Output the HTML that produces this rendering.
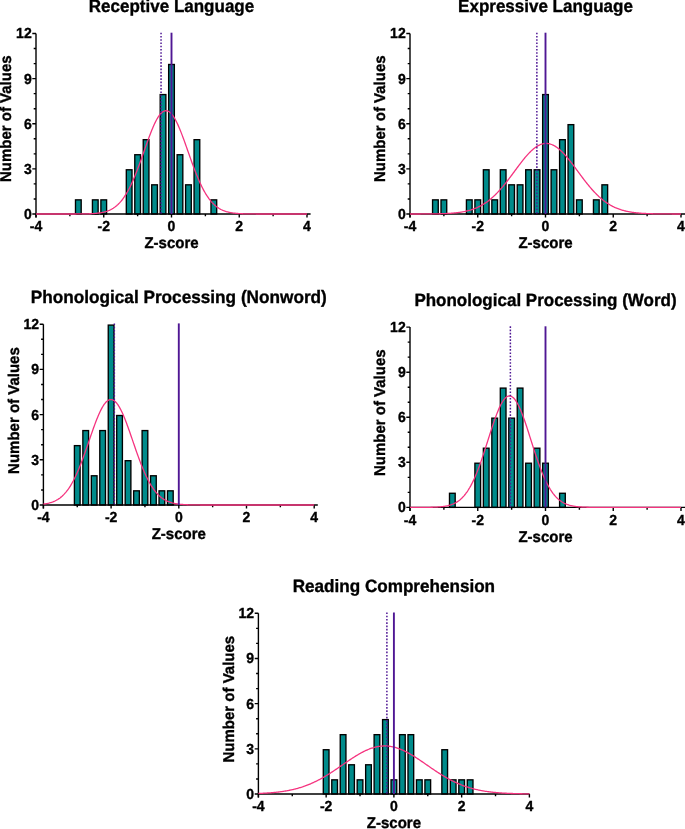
<!DOCTYPE html>
<html><head><meta charset="utf-8"><style>
html,body{margin:0;padding:0;background:#fff;}
svg{display:block;will-change:transform;}
text{text-rendering:geometricPrecision;font-family:"Liberation Sans",sans-serif;font-weight:bold;fill:#000;stroke:#000;stroke-width:0.35px;}
.t{font-size:14px;}
.a{font-size:15px;}
.h{font-size:17px;}
</style></head><body>
<svg width="685" height="829" viewBox="0 0 685 829">
<rect width="685" height="829" fill="#fff"/>
<rect x="75.49" y="199.86" width="5.7" height="14.14" fill="#008b8b" stroke="#000" stroke-width="1.35"/>
<rect x="92.43" y="199.86" width="5.7" height="14.14" fill="#008b8b" stroke="#000" stroke-width="1.35"/>
<rect x="100.9" y="199.86" width="5.7" height="14.14" fill="#008b8b" stroke="#000" stroke-width="1.35"/>
<rect x="126.31" y="169.78" width="5.7" height="44.23" fill="#008b8b" stroke="#000" stroke-width="1.35"/>
<rect x="134.78" y="154.73" width="5.7" height="59.27" fill="#008b8b" stroke="#000" stroke-width="1.35"/>
<rect x="143.24" y="139.69" width="5.7" height="74.31" fill="#008b8b" stroke="#000" stroke-width="1.35"/>
<rect x="151.71" y="184.82" width="5.7" height="29.18" fill="#008b8b" stroke="#000" stroke-width="1.35"/>
<rect x="160.18" y="94.57" width="5.7" height="119.43" fill="#008b8b" stroke="#000" stroke-width="1.35"/>
<rect x="168.65" y="64.48" width="5.7" height="149.52" fill="#008b8b" stroke="#000" stroke-width="1.35"/>
<rect x="177.12" y="154.73" width="5.7" height="59.27" fill="#008b8b" stroke="#000" stroke-width="1.35"/>
<rect x="185.59" y="184.82" width="5.7" height="29.18" fill="#008b8b" stroke="#000" stroke-width="1.35"/>
<rect x="194.06" y="139.69" width="5.7" height="74.31" fill="#008b8b" stroke="#000" stroke-width="1.35"/>
<rect x="210.99" y="199.86" width="5.7" height="14.14" fill="#008b8b" stroke="#000" stroke-width="1.35"/>
<path d="M36 33.5V217.5M36 214H310.6" fill="none" stroke="#000" stroke-width="1.4"/>
<path d="M32.3 214H36M33.7 198.96H36M33.7 183.92H36M32.3 168.88H36M33.7 153.83H36M33.7 138.79H36M32.3 123.75H36M33.7 108.71H36M33.7 93.67H36M32.3 78.62H36M33.7 63.58H36M33.7 48.54H36M32.3 33.5H36M36 214V217.5M69.88 214V216.3M103.75 214V217.5M137.62 214V216.3M171.5 214V217.5M205.38 214V216.3M239.25 214V217.5M273.12 214V216.3M307 214V217.5" fill="none" stroke="#000" stroke-width="1.4"/>
<polyline points="36,214 36.68,214 37.36,214 38.03,214 38.71,214 39.39,214 40.07,214 40.74,214 41.42,214 42.1,214 42.78,214 43.45,214 44.13,214 44.81,214 45.49,214 46.16,214 46.84,214 47.52,214 48.19,214 48.87,214 49.55,214 50.23,214 50.91,214 51.58,214 52.26,214 52.94,214 53.62,214 54.29,214 54.97,214 55.65,214 56.33,214 57,214 57.68,214 58.36,214 59.04,214 59.71,214 60.39,214 61.07,214 61.74,214 62.42,214 63.1,214 63.78,214 64.45,214 65.13,214 65.81,214 66.49,214 67.16,214 67.84,214 68.52,213.99 69.2,213.99 69.88,213.99 70.55,213.99 71.23,213.99 71.91,213.99 72.59,213.99 73.26,213.99 73.94,213.98 74.62,213.98 75.3,213.98 75.97,213.98 76.65,213.97 77.33,213.97 78.01,213.97 78.68,213.96 79.36,213.96 80.04,213.95 80.72,213.94 81.39,213.94 82.07,213.93 82.75,213.92 83.43,213.91 84.1,213.9 84.78,213.89 85.46,213.87 86.13,213.86 86.81,213.84 87.49,213.82 88.17,213.8 88.84,213.78 89.52,213.76 90.2,213.73 90.88,213.7 91.56,213.67 92.23,213.63 92.91,213.59 93.59,213.54 94.26,213.5 94.94,213.44 95.62,213.38 96.3,213.32 96.97,213.25 97.65,213.18 98.33,213.09 99.01,213 99.69,212.91 100.36,212.8 101.04,212.69 101.72,212.56 102.39,212.43 103.07,212.28 103.75,212.12 104.43,211.95 105.11,211.77 105.78,211.57 106.46,211.36 107.14,211.13 107.81,210.88 108.49,210.62 109.17,210.34 109.85,210.04 110.53,209.72 111.2,209.37 111.88,209 112.56,208.61 113.24,208.2 113.91,207.75 114.59,207.29 115.27,206.79 115.94,206.26 116.62,205.7 117.3,205.11 117.98,204.49 118.66,203.83 119.33,203.14 120.01,202.41 120.69,201.64 121.36,200.84 122.04,200 122.72,199.11 123.4,198.19 124.08,197.23 124.75,196.22 125.43,195.17 126.11,194.08 126.79,192.94 127.46,191.76 128.14,190.54 128.82,189.28 129.5,187.97 130.17,186.61 130.85,185.22 131.53,183.78 132.2,182.3 132.88,180.77 133.56,179.21 134.24,177.61 134.91,175.97 135.59,174.3 136.27,172.59 136.95,170.85 137.62,169.08 138.3,167.28 138.98,165.45 139.66,163.6 140.34,161.73 141.01,159.85 141.69,157.94 142.37,156.03 143.05,154.1 143.72,152.18 144.4,150.25 145.08,148.32 145.75,146.4 146.43,144.48 147.11,142.59 147.79,140.7 148.47,138.85 149.14,137.01 149.82,135.21 150.5,133.44 151.18,131.71 151.85,130.02 152.53,128.38 153.21,126.79 153.88,125.26 154.56,123.78 155.24,122.37 155.92,121.02 156.59,119.74 157.27,118.54 157.95,117.41 158.63,116.36 159.31,115.39 159.98,114.51 160.66,113.72 161.34,113.01 162.01,112.4 162.69,111.88 163.37,111.45 164.05,111.12 164.73,110.89 165.4,110.75 166.08,110.72 166.76,110.78 167.44,110.94 168.11,111.19 168.79,111.55 169.47,111.99 170.15,112.54 170.82,113.17 171.5,113.9 172.18,114.71 172.85,115.62 173.53,116.6 174.21,117.67 174.89,118.82 175.56,120.04 176.24,121.34 176.92,122.7 177.6,124.13 178.28,125.62 178.95,127.17 179.63,128.77 180.31,130.43 180.99,132.12 181.66,133.86 182.34,135.64 183.02,137.45 183.7,139.29 184.37,141.15 185.05,143.04 185.73,144.94 186.41,146.86 187.08,148.78 187.76,150.71 188.44,152.64 189.12,154.57 189.79,156.49 190.47,158.4 191.15,160.3 191.83,162.18 192.5,164.05 193.18,165.89 193.86,167.71 194.53,169.51 195.21,171.27 195.89,173 196.57,174.7 197.25,176.37 197.92,178 198.6,179.59 199.28,181.14 199.95,182.65 200.63,184.13 201.31,185.55 201.99,186.94 202.66,188.28 203.34,189.58 204.02,190.84 204.7,192.05 205.38,193.22 206.05,194.34 206.73,195.43 207.41,196.46 208.09,197.46 208.76,198.42 209.44,199.33 210.12,200.2 210.8,201.04 211.47,201.83 212.15,202.59 212.83,203.31 213.5,203.99 214.18,204.64 214.86,205.25 215.54,205.84 216.22,206.39 216.89,206.91 217.57,207.4 218.25,207.86 218.93,208.3 219.6,208.71 220.28,209.09 220.96,209.46 221.64,209.79 222.31,210.11 222.99,210.41 223.67,210.69 224.35,210.94 225.02,211.19 225.7,211.41 226.38,211.62 227.05,211.81 227.73,211.99 228.41,212.16 229.09,212.32 229.76,212.46 230.44,212.59 231.12,212.71 231.8,212.83 232.47,212.93 233.15,213.03 233.83,213.11 234.51,213.19 235.19,213.27 235.86,213.34 236.54,213.4 237.22,213.46 237.9,213.51 238.57,213.55 239.25,213.6 239.93,213.64 240.6,213.67 241.28,213.71 241.96,213.74 242.64,213.76 243.31,213.79 243.99,213.81 244.67,213.83 245.35,213.85 246.03,213.86 246.7,213.88 247.38,213.89 248.06,213.9 248.74,213.91 249.41,213.92 250.09,213.93 250.77,213.94 251.45,213.95 252.12,213.95 252.8,213.96 253.48,213.96 254.16,213.97 254.83,213.97 255.51,213.97 256.19,213.98 256.87,213.98 257.54,213.98 258.22,213.98 258.9,213.99 259.58,213.99 260.25,213.99 260.93,213.99 261.61,213.99 262.28,213.99 262.96,213.99 263.64,213.99 264.32,214 265,214 265.67,214 266.35,214 267.03,214 267.7,214 268.38,214 269.06,214 269.74,214 270.41,214 271.09,214 271.77,214 272.45,214 273.12,214 273.8,214 274.48,214 275.16,214 275.84,214 276.51,214 277.19,214 277.87,214 278.55,214 279.22,214 279.9,214 280.58,214 281.25,214 281.93,214 282.61,214 283.29,214 283.97,214 284.64,214 285.32,214 286,214 286.68,214 287.35,214 288.03,214 288.71,214 289.38,214 290.06,214 290.74,214 291.42,214 292.1,214 292.77,214 293.45,214 294.13,214 294.81,214 295.48,214 296.16,214 296.84,214 297.51,214 298.19,214 298.87,214 299.55,214 300.22,214 300.9,214 301.58,214 302.26,214 302.94,214 303.61,214 304.29,214 304.97,214 305.64,214 306.32,214 307,214" fill="none" stroke="#f5337f" stroke-width="1.3"/>
<line x1="171.5" y1="32.7" x2="171.5" y2="214" stroke="#4f1794" stroke-width="1.9"/>
<line x1="161.05" y1="32.7" x2="161.05" y2="214" stroke="#4f1794" stroke-width="1.5" stroke-dasharray="1.6 1.66"/>
<text transform="translate(31.7 218.9) scale(1 1.04)" text-anchor="end" class="t">0</text>
<text transform="translate(31.7 173.78) scale(1 1.04)" text-anchor="end" class="t">3</text>
<text transform="translate(31.7 128.65) scale(1 1.04)" text-anchor="end" class="t">6</text>
<text transform="translate(31.7 83.53) scale(1 1.04)" text-anchor="end" class="t">9</text>
<text transform="translate(31.7 38.4) scale(1 1.04)" text-anchor="end" class="t">12</text>
<text transform="translate(36 230.8) scale(1 1.04)" text-anchor="middle" class="t">-4</text>
<text transform="translate(103.75 230.8) scale(1 1.04)" text-anchor="middle" class="t">-2</text>
<text transform="translate(171.5 230.8) scale(1 1.04)" text-anchor="middle" class="t">0</text>
<text transform="translate(239.25 230.8) scale(1 1.04)" text-anchor="middle" class="t">2</text>
<text transform="translate(307 230.8) scale(1 1.04)" text-anchor="middle" class="t">4</text>
<text transform="translate(171.5 247.9) scale(1 1.04)" text-anchor="middle" class="a">Z-score</text>
<text transform="translate(11.2 118.75) rotate(-90) scale(1 1.04)" text-anchor="middle" class="a">Number of Values</text>
<text transform="translate(171.5 12) scale(1 1.04)" text-anchor="middle" class="h" style="font-size:17px">Receptive Language</text>
<rect x="432.56" y="199.86" width="5.7" height="14.14" fill="#008b8b" stroke="#000" stroke-width="1.35"/>
<rect x="441.02" y="199.86" width="5.7" height="14.14" fill="#008b8b" stroke="#000" stroke-width="1.35"/>
<rect x="466.43" y="199.86" width="5.7" height="14.14" fill="#008b8b" stroke="#000" stroke-width="1.35"/>
<rect x="474.9" y="199.86" width="5.7" height="14.14" fill="#008b8b" stroke="#000" stroke-width="1.35"/>
<rect x="483.37" y="169.78" width="5.7" height="44.23" fill="#008b8b" stroke="#000" stroke-width="1.35"/>
<rect x="491.84" y="199.86" width="5.7" height="14.14" fill="#008b8b" stroke="#000" stroke-width="1.35"/>
<rect x="500.31" y="169.78" width="5.7" height="44.23" fill="#008b8b" stroke="#000" stroke-width="1.35"/>
<rect x="508.77" y="184.82" width="5.7" height="29.18" fill="#008b8b" stroke="#000" stroke-width="1.35"/>
<rect x="517.24" y="184.82" width="5.7" height="29.18" fill="#008b8b" stroke="#000" stroke-width="1.35"/>
<rect x="525.71" y="169.78" width="5.7" height="44.23" fill="#008b8b" stroke="#000" stroke-width="1.35"/>
<rect x="534.18" y="169.78" width="5.7" height="44.23" fill="#008b8b" stroke="#000" stroke-width="1.35"/>
<rect x="542.65" y="94.57" width="5.7" height="119.43" fill="#008b8b" stroke="#000" stroke-width="1.35"/>
<rect x="551.12" y="169.78" width="5.7" height="44.23" fill="#008b8b" stroke="#000" stroke-width="1.35"/>
<rect x="559.59" y="139.69" width="5.7" height="74.31" fill="#008b8b" stroke="#000" stroke-width="1.35"/>
<rect x="568.06" y="124.65" width="5.7" height="89.35" fill="#008b8b" stroke="#000" stroke-width="1.35"/>
<rect x="576.52" y="199.86" width="5.7" height="14.14" fill="#008b8b" stroke="#000" stroke-width="1.35"/>
<rect x="593.46" y="199.86" width="5.7" height="14.14" fill="#008b8b" stroke="#000" stroke-width="1.35"/>
<rect x="601.93" y="184.82" width="5.7" height="29.18" fill="#008b8b" stroke="#000" stroke-width="1.35"/>
<path d="M410 33.5V217.5M410 214H686" fill="none" stroke="#000" stroke-width="1.4"/>
<path d="M406.3 214H410M407.7 198.96H410M407.7 183.92H410M406.3 168.88H410M407.7 153.83H410M407.7 138.79H410M406.3 123.75H410M407.7 108.71H410M407.7 93.67H410M406.3 78.62H410M407.7 63.58H410M407.7 48.54H410M406.3 33.5H410M410 214V217.5M443.88 214V216.3M477.75 214V217.5M511.62 214V216.3M545.5 214V217.5M579.38 214V216.3M613.25 214V217.5M647.12 214V216.3M681 214V217.5" fill="none" stroke="#000" stroke-width="1.4"/>
<polyline points="410,213.99 410.68,213.99 411.36,213.99 412.03,213.99 412.71,213.99 413.39,213.99 414.06,213.99 414.74,213.99 415.42,213.99 416.1,213.99 416.77,213.98 417.45,213.98 418.13,213.98 418.81,213.98 419.49,213.98 420.16,213.98 420.84,213.97 421.52,213.97 422.19,213.97 422.87,213.97 423.55,213.96 424.23,213.96 424.9,213.96 425.58,213.95 426.26,213.95 426.94,213.94 427.62,213.94 428.29,213.93 428.97,213.93 429.65,213.92 430.32,213.92 431,213.91 431.68,213.9 432.36,213.89 433.04,213.89 433.71,213.88 434.39,213.87 435.07,213.86 435.75,213.85 436.42,213.83 437.1,213.82 437.78,213.81 438.45,213.79 439.13,213.78 439.81,213.76 440.49,213.74 441.17,213.72 441.84,213.7 442.52,213.68 443.2,213.66 443.88,213.63 444.55,213.61 445.23,213.58 445.91,213.55 446.58,213.52 447.26,213.48 447.94,213.45 448.62,213.41 449.3,213.37 449.97,213.32 450.65,213.28 451.33,213.23 452,213.18 452.68,213.12 453.36,213.07 454.04,213.01 454.72,212.94 455.39,212.88 456.07,212.8 456.75,212.73 457.43,212.65 458.1,212.57 458.78,212.48 459.46,212.38 460.13,212.29 460.81,212.18 461.49,212.08 462.17,211.96 462.85,211.84 463.52,211.72 464.2,211.58 464.88,211.45 465.56,211.3 466.23,211.15 466.91,210.99 467.59,210.83 468.26,210.65 468.94,210.47 469.62,210.28 470.3,210.08 470.98,209.88 471.65,209.66 472.33,209.44 473.01,209.2 473.69,208.96 474.36,208.71 475.04,208.44 475.72,208.17 476.39,207.88 477.07,207.59 477.75,207.28 478.43,206.96 479.11,206.63 479.78,206.29 480.46,205.93 481.14,205.57 481.81,205.19 482.49,204.79 483.17,204.39 483.85,203.97 484.52,203.54 485.2,203.09 485.88,202.63 486.56,202.16 487.24,201.67 487.91,201.17 488.59,200.65 489.27,200.12 489.94,199.58 490.62,199.02 491.3,198.45 491.98,197.86 492.65,197.26 493.33,196.64 494.01,196.01 494.69,195.36 495.37,194.7 496.04,194.03 496.72,193.34 497.4,192.64 498.07,191.92 498.75,191.19 499.43,190.45 500.11,189.69 500.79,188.93 501.46,188.15 502.14,187.35 502.82,186.55 503.5,185.73 504.17,184.91 504.85,184.07 505.53,183.22 506.2,182.37 506.88,181.5 507.56,180.63 508.24,179.75 508.91,178.86 509.59,177.97 510.27,177.07 510.95,176.16 511.62,175.25 512.3,174.34 512.98,173.43 513.66,172.51 514.34,171.59 515.01,170.67 515.69,169.75 516.37,168.84 517.04,167.92 517.72,167.01 518.4,166.1 519.08,165.2 519.75,164.3 520.43,163.42 521.11,162.53 521.79,161.66 522.47,160.8 523.14,159.94 523.82,159.1 524.5,158.27 525.17,157.46 525.85,156.66 526.53,155.87 527.21,155.11 527.88,154.35 528.56,153.62 529.24,152.91 529.92,152.21 530.6,151.54 531.27,150.89 531.95,150.26 532.63,149.66 533.31,149.08 533.98,148.52 534.66,147.99 535.34,147.49 536.01,147.01 536.69,146.56 537.37,146.14 538.05,145.75 538.73,145.39 539.4,145.05 540.08,144.75 540.76,144.48 541.43,144.24 542.11,144.03 542.79,143.85 543.47,143.71 544.14,143.6 544.82,143.52 545.5,143.47 546.18,143.45 546.86,143.47 547.53,143.52 548.21,143.6 548.89,143.71 549.57,143.86 550.24,144.04 550.92,144.25 551.6,144.49 552.27,144.76 552.95,145.06 553.63,145.4 554.31,145.76 554.99,146.15 555.66,146.58 556.34,147.02 557.02,147.5 557.7,148.01 558.37,148.54 559.05,149.09 559.73,149.68 560.4,150.28 561.08,150.91 561.76,151.56 562.44,152.23 563.12,152.93 563.79,153.64 564.47,154.38 565.15,155.13 565.83,155.9 566.5,156.68 567.18,157.48 567.86,158.3 568.53,159.13 569.21,159.97 569.89,160.82 570.57,161.69 571.25,162.56 571.92,163.44 572.6,164.33 573.28,165.23 573.95,166.13 574.63,167.04 575.31,167.95 575.99,168.87 576.66,169.78 577.34,170.7 578.02,171.62 578.7,172.54 579.38,173.45 580.05,174.37 580.73,175.28 581.41,176.19 582.09,177.1 582.76,178 583.44,178.89 584.12,179.78 584.8,180.66 585.47,181.53 586.15,182.39 586.83,183.25 587.5,184.1 588.18,184.93 588.86,185.76 589.54,186.57 590.22,187.38 590.89,188.17 591.57,188.95 592.25,189.72 592.92,190.47 593.6,191.21 594.28,191.94 594.96,192.66 595.63,193.36 596.31,194.05 596.99,194.72 597.67,195.38 598.35,196.03 599.02,196.66 599.7,197.27 600.38,197.88 601.05,198.46 601.73,199.04 602.41,199.6 603.09,200.14 603.76,200.67 604.44,201.19 605.12,201.69 605.8,202.17 606.48,202.65 607.15,203.11 607.83,203.55 608.51,203.98 609.18,204.4 609.86,204.81 610.54,205.2 611.22,205.58 611.89,205.94 612.57,206.3 613.25,206.64 613.93,206.97 614.61,207.29 615.28,207.6 615.96,207.89 616.64,208.18 617.32,208.45 617.99,208.71 618.67,208.97 619.35,209.21 620.02,209.44 620.7,209.67 621.38,209.88 622.06,210.09 622.74,210.29 623.41,210.48 624.09,210.66 624.77,210.83 625.45,211 626.12,211.16 626.8,211.31 627.48,211.45 628.15,211.59 628.83,211.72 629.51,211.85 630.19,211.96 630.87,212.08 631.54,212.19 632.22,212.29 632.9,212.39 633.58,212.48 634.25,212.57 634.93,212.65 635.61,212.73 636.28,212.81 636.96,212.88 637.64,212.94 638.32,213.01 639,213.07 639.67,213.13 640.35,213.18 641.03,213.23 641.7,213.28 642.38,213.33 643.06,213.37 643.74,213.41 644.41,213.45 645.09,213.48 645.77,213.52 646.45,213.55 647.12,213.58 647.8,213.61 648.48,213.63 649.16,213.66 649.84,213.68 650.51,213.7 651.19,213.72 651.87,213.74 652.55,213.76 653.22,213.78 653.9,213.79 654.58,213.81 655.25,213.82 655.93,213.83 656.61,213.85 657.29,213.86 657.97,213.87 658.64,213.88 659.32,213.89 660,213.89 660.67,213.9 661.35,213.91 662.03,213.92 662.71,213.92 663.38,213.93 664.06,213.93 664.74,213.94 665.42,213.94 666.1,213.95 666.77,213.95 667.45,213.96 668.13,213.96 668.81,213.96 669.48,213.97 670.16,213.97 670.84,213.97 671.51,213.97 672.19,213.98 672.87,213.98 673.55,213.98 674.22,213.98 674.9,213.98 675.58,213.98 676.26,213.99 676.93,213.99 677.61,213.99 678.29,213.99 678.97,213.99 679.64,213.99 680.32,213.99 681,213.99" fill="none" stroke="#f5337f" stroke-width="1.3"/>
<line x1="545.5" y1="32.7" x2="545.5" y2="214" stroke="#4f1794" stroke-width="1.9"/>
<line x1="536.86" y1="32.7" x2="536.86" y2="214" stroke="#4f1794" stroke-width="1.5" stroke-dasharray="1.6 1.66"/>
<text transform="translate(405.7 218.9) scale(1 1.04)" text-anchor="end" class="t">0</text>
<text transform="translate(405.7 173.78) scale(1 1.04)" text-anchor="end" class="t">3</text>
<text transform="translate(405.7 128.65) scale(1 1.04)" text-anchor="end" class="t">6</text>
<text transform="translate(405.7 83.53) scale(1 1.04)" text-anchor="end" class="t">9</text>
<text transform="translate(405.7 38.4) scale(1 1.04)" text-anchor="end" class="t">12</text>
<text transform="translate(410 230.8) scale(1 1.04)" text-anchor="middle" class="t">-4</text>
<text transform="translate(477.75 230.8) scale(1 1.04)" text-anchor="middle" class="t">-2</text>
<text transform="translate(545.5 230.8) scale(1 1.04)" text-anchor="middle" class="t">0</text>
<text transform="translate(613.25 230.8) scale(1 1.04)" text-anchor="middle" class="t">2</text>
<text transform="translate(681 230.8) scale(1 1.04)" text-anchor="middle" class="t">4</text>
<text transform="translate(545.5 247.9) scale(1 1.04)" text-anchor="middle" class="a">Z-score</text>
<text transform="translate(385.2 118.75) rotate(-90) scale(1 1.04)" text-anchor="middle" class="a">Number of Values</text>
<text transform="translate(545.5 12) scale(1 1.04)" text-anchor="middle" class="h" style="font-size:17px">Expressive Language</text>
<rect x="74.4" y="445.63" width="5.7" height="59.37" fill="#008b8b" stroke="#000" stroke-width="1.35"/>
<rect x="82.86" y="430.57" width="5.7" height="74.43" fill="#008b8b" stroke="#000" stroke-width="1.35"/>
<rect x="91.33" y="475.77" width="5.7" height="29.23" fill="#008b8b" stroke="#000" stroke-width="1.35"/>
<rect x="99.79" y="430.57" width="5.7" height="74.43" fill="#008b8b" stroke="#000" stroke-width="1.35"/>
<rect x="108.25" y="325.1" width="5.7" height="179.9" fill="#008b8b" stroke="#000" stroke-width="1.35"/>
<rect x="116.71" y="415.5" width="5.7" height="89.5" fill="#008b8b" stroke="#000" stroke-width="1.35"/>
<rect x="125.18" y="460.7" width="5.7" height="44.3" fill="#008b8b" stroke="#000" stroke-width="1.35"/>
<rect x="133.64" y="490.83" width="5.7" height="14.17" fill="#008b8b" stroke="#000" stroke-width="1.35"/>
<rect x="142.1" y="430.57" width="5.7" height="74.43" fill="#008b8b" stroke="#000" stroke-width="1.35"/>
<rect x="150.56" y="475.77" width="5.7" height="29.23" fill="#008b8b" stroke="#000" stroke-width="1.35"/>
<rect x="159.03" y="490.83" width="5.7" height="14.17" fill="#008b8b" stroke="#000" stroke-width="1.35"/>
<rect x="167.49" y="490.83" width="5.7" height="14.17" fill="#008b8b" stroke="#000" stroke-width="1.35"/>
<path d="M43.4 324.2V508.5M43.4 505H317.8" fill="none" stroke="#000" stroke-width="1.4"/>
<path d="M39.7 505H43.4M41.1 489.93H43.4M41.1 474.87H43.4M39.7 459.8H43.4M41.1 444.73H43.4M41.1 429.67H43.4M39.7 414.6H43.4M41.1 399.53H43.4M41.1 384.47H43.4M39.7 369.4H43.4M41.1 354.33H43.4M41.1 339.27H43.4M39.7 324.2H43.4M43.4 505V508.5M77.25 505V507.3M111.1 505V508.5M144.95 505V507.3M178.8 505V508.5M212.65 505V507.3M246.5 505V508.5M280.35 505V507.3M314.2 505V508.5" fill="none" stroke="#000" stroke-width="1.4"/>
<polyline points="43.4,504.08 44.08,503.99 44.75,503.89 45.43,503.79 46.11,503.67 46.79,503.54 47.46,503.41 48.14,503.26 48.82,503.1 49.49,502.92 50.17,502.74 50.85,502.54 51.52,502.32 52.2,502.09 52.88,501.84 53.55,501.57 54.23,501.28 54.91,500.98 55.59,500.65 56.26,500.3 56.94,499.92 57.62,499.52 58.29,499.1 58.97,498.65 59.65,498.17 60.33,497.66 61,497.12 61.68,496.55 62.36,495.94 63.03,495.31 63.71,494.64 64.39,493.93 65.06,493.18 65.74,492.4 66.42,491.58 67.09,490.72 67.77,489.81 68.45,488.87 69.13,487.88 69.8,486.85 70.48,485.78 71.16,484.66 71.83,483.5 72.51,482.29 73.19,481.04 73.86,479.74 74.54,478.4 75.22,477.01 75.9,475.58 76.57,474.11 77.25,472.59 77.93,471.03 78.6,469.43 79.28,467.79 79.96,466.11 80.64,464.4 81.31,462.64 81.99,460.86 82.67,459.05 83.34,457.2 84.02,455.33 84.7,453.44 85.37,451.52 86.05,449.59 86.73,447.64 87.41,445.68 88.08,443.71 88.76,441.73 89.44,439.76 90.11,437.78 90.79,435.81 91.47,433.86 92.14,431.92 92.82,429.99 93.5,428.09 94.18,426.22 94.85,424.37 95.53,422.57 96.21,420.8 96.88,419.08 97.56,417.4 98.24,415.78 98.91,414.22 99.59,412.71 100.27,411.27 100.95,409.9 101.62,408.6 102.3,407.38 102.98,406.23 103.65,405.17 104.33,404.19 105.01,403.3 105.68,402.5 106.36,401.79 107.04,401.18 107.72,400.66 108.39,400.24 109.07,399.92 109.75,399.69 110.42,399.57 111.1,399.55 111.78,399.63 112.45,399.81 113.13,400.09 113.81,400.47 114.49,400.94 115.16,401.52 115.84,402.18 116.52,402.95 117.19,403.8 117.87,404.74 118.55,405.77 119.22,406.88 119.9,408.07 120.58,409.33 121.26,410.67 121.93,412.09 122.61,413.56 123.29,415.1 123.96,416.7 124.64,418.35 125.32,420.05 125.99,421.8 126.67,423.59 127.35,425.42 128.03,427.28 128.7,429.17 129.38,431.09 130.06,433.02 130.73,434.97 131.41,436.93 132.09,438.91 132.76,440.88 133.44,442.86 134.12,444.83 134.8,446.79 135.47,448.75 136.15,450.69 136.83,452.61 137.5,454.52 138.18,456.4 138.86,458.26 139.53,460.08 140.21,461.88 140.89,463.65 141.56,465.38 142.24,467.07 142.92,468.73 143.6,470.35 144.27,471.92 144.95,473.46 145.63,474.95 146.3,476.4 146.98,477.81 147.66,479.17 148.34,480.48 149.01,481.76 149.69,482.98 150.37,484.16 151.04,485.3 151.72,486.39 152.4,487.44 153.07,488.45 153.75,489.41 154.43,490.33 155.11,491.21 155.78,492.05 156.46,492.85 157.14,493.61 157.81,494.34 158.49,495.02 159.17,495.68 159.84,496.29 160.52,496.88 161.2,497.43 161.88,497.95 162.55,498.44 163.23,498.91 163.91,499.34 164.58,499.75 165.26,500.14 165.94,500.5 166.61,500.84 167.29,501.15 167.97,501.45 168.65,501.72 169.32,501.98 170,502.22 170.68,502.45 171.35,502.65 172.03,502.85 172.71,503.02 173.38,503.19 174.06,503.34 174.74,503.49 175.42,503.62 176.09,503.74 176.77,503.85 177.45,503.95 178.12,504.05 178.8,504.13 179.48,504.21 180.15,504.29 180.83,504.35 181.51,504.41 182.19,504.47 182.86,504.52 183.54,504.57 184.22,504.61 184.89,504.65 185.57,504.68 186.25,504.71 186.92,504.74 187.6,504.77 188.28,504.79 188.96,504.81 189.63,504.83 190.31,504.85 190.99,504.87 191.66,504.88 192.34,504.89 193.02,504.91 193.69,504.92 194.37,504.93 195.05,504.93 195.73,504.94 196.4,504.95 197.08,504.95 197.76,504.96 198.43,504.96 199.11,504.97 199.79,504.97 200.46,504.98 201.14,504.98 201.82,504.98 202.5,504.98 203.17,504.99 203.85,504.99 204.53,504.99 205.2,504.99 205.88,504.99 206.56,504.99 207.23,504.99 207.91,504.99 208.59,504.99 209.27,505 209.94,505 210.62,505 211.3,505 211.97,505 212.65,505 213.33,505 214,505 214.68,505 215.36,505 216.04,505 216.71,505 217.39,505 218.07,505 218.74,505 219.42,505 220.1,505 220.77,505 221.45,505 222.13,505 222.81,505 223.48,505 224.16,505 224.84,505 225.51,505 226.19,505 226.87,505 227.54,505 228.22,505 228.9,505 229.58,505 230.25,505 230.93,505 231.61,505 232.28,505 232.96,505 233.64,505 234.31,505 234.99,505 235.67,505 236.35,505 237.02,505 237.7,505 238.38,505 239.05,505 239.73,505 240.41,505 241.08,505 241.76,505 242.44,505 243.12,505 243.79,505 244.47,505 245.15,505 245.82,505 246.5,505 247.18,505 247.85,505 248.53,505 249.21,505 249.89,505 250.56,505 251.24,505 251.92,505 252.59,505 253.27,505 253.95,505 254.62,505 255.3,505 255.98,505 256.65,505 257.33,505 258.01,505 258.69,505 259.36,505 260.04,505 260.72,505 261.39,505 262.07,505 262.75,505 263.43,505 264.1,505 264.78,505 265.46,505 266.13,505 266.81,505 267.49,505 268.16,505 268.84,505 269.52,505 270.19,505 270.87,505 271.55,505 272.23,505 272.9,505 273.58,505 274.26,505 274.93,505 275.61,505 276.29,505 276.97,505 277.64,505 278.32,505 279,505 279.67,505 280.35,505 281.03,505 281.7,505 282.38,505 283.06,505 283.74,505 284.41,505 285.09,505 285.77,505 286.44,505 287.12,505 287.8,505 288.47,505 289.15,505 289.83,505 290.5,505 291.18,505 291.86,505 292.54,505 293.21,505 293.89,505 294.57,505 295.24,505 295.92,505 296.6,505 297.27,505 297.95,505 298.63,505 299.31,505 299.98,505 300.66,505 301.34,505 302.01,505 302.69,505 303.37,505 304.05,505 304.72,505 305.4,505 306.08,505 306.75,505 307.43,505 308.11,505 308.78,505 309.46,505 310.14,505 310.81,505 311.49,505 312.17,505 312.85,505 313.52,505 314.2,505" fill="none" stroke="#f5337f" stroke-width="1.3"/>
<line x1="178.8" y1="323.4" x2="178.8" y2="505" stroke="#4f1794" stroke-width="1.9"/>
<line x1="114.35" y1="323.4" x2="114.35" y2="505" stroke="#4f1794" stroke-width="1.5" stroke-dasharray="1.6 1.66"/>
<text transform="translate(39.1 509.9) scale(1 1.04)" text-anchor="end" class="t">0</text>
<text transform="translate(39.1 464.7) scale(1 1.04)" text-anchor="end" class="t">3</text>
<text transform="translate(39.1 419.5) scale(1 1.04)" text-anchor="end" class="t">6</text>
<text transform="translate(39.1 374.3) scale(1 1.04)" text-anchor="end" class="t">9</text>
<text transform="translate(39.1 329.1) scale(1 1.04)" text-anchor="end" class="t">12</text>
<text transform="translate(43.4 521.8) scale(1 1.04)" text-anchor="middle" class="t">-4</text>
<text transform="translate(111.1 521.8) scale(1 1.04)" text-anchor="middle" class="t">-2</text>
<text transform="translate(178.8 521.8) scale(1 1.04)" text-anchor="middle" class="t">0</text>
<text transform="translate(246.5 521.8) scale(1 1.04)" text-anchor="middle" class="t">2</text>
<text transform="translate(314.2 521.8) scale(1 1.04)" text-anchor="middle" class="t">4</text>
<text transform="translate(178.8 538.9) scale(1 1.04)" text-anchor="middle" class="a">Z-score</text>
<text transform="translate(18.6 410.6) rotate(-90) scale(1 1.04)" text-anchor="middle" class="a">Number of Values</text>
<text transform="translate(178.8 302.7) scale(1 1.04)" text-anchor="middle" class="h" style="font-size:17.2px">Phonological Processing (Nonword)</text>
<rect x="449.49" y="493.27" width="5.7" height="14.12" fill="#008b8b" stroke="#000" stroke-width="1.35"/>
<rect x="474.9" y="463.22" width="5.7" height="44.17" fill="#008b8b" stroke="#000" stroke-width="1.35"/>
<rect x="483.37" y="448.2" width="5.7" height="59.2" fill="#008b8b" stroke="#000" stroke-width="1.35"/>
<rect x="491.84" y="418.15" width="5.7" height="89.25" fill="#008b8b" stroke="#000" stroke-width="1.35"/>
<rect x="500.31" y="388.1" width="5.7" height="119.3" fill="#008b8b" stroke="#000" stroke-width="1.35"/>
<rect x="508.77" y="418.15" width="5.7" height="89.25" fill="#008b8b" stroke="#000" stroke-width="1.35"/>
<rect x="517.24" y="388.1" width="5.7" height="119.3" fill="#008b8b" stroke="#000" stroke-width="1.35"/>
<rect x="525.71" y="463.22" width="5.7" height="44.17" fill="#008b8b" stroke="#000" stroke-width="1.35"/>
<rect x="534.18" y="448.2" width="5.7" height="59.2" fill="#008b8b" stroke="#000" stroke-width="1.35"/>
<rect x="542.65" y="463.22" width="5.7" height="44.17" fill="#008b8b" stroke="#000" stroke-width="1.35"/>
<rect x="559.59" y="493.27" width="5.7" height="14.12" fill="#008b8b" stroke="#000" stroke-width="1.35"/>
<path d="M410 327.1V510.9M410 507.4H686" fill="none" stroke="#000" stroke-width="1.4"/>
<path d="M406.3 507.4H410M407.7 492.38H410M407.7 477.35H410M406.3 462.32H410M407.7 447.3H410M407.7 432.27H410M406.3 417.25H410M407.7 402.23H410M407.7 387.2H410M406.3 372.18H410M407.7 357.15H410M407.7 342.12H410M406.3 327.1H410M410 507.4V510.9M443.88 507.4V509.7M477.75 507.4V510.9M511.62 507.4V509.7M545.5 507.4V510.9M579.38 507.4V509.7M613.25 507.4V510.9M647.12 507.4V509.7M681 507.4V510.9" fill="none" stroke="#000" stroke-width="1.4"/>
<polyline points="410,507.4 410.68,507.4 411.36,507.4 412.03,507.4 412.71,507.4 413.39,507.4 414.06,507.39 414.74,507.39 415.42,507.39 416.1,507.39 416.77,507.39 417.45,507.39 418.13,507.39 418.81,507.39 419.49,507.38 420.16,507.38 420.84,507.38 421.52,507.38 422.19,507.37 422.87,507.37 423.55,507.37 424.23,507.36 424.9,507.36 425.58,507.35 426.26,507.34 426.94,507.34 427.62,507.33 428.29,507.32 428.97,507.31 429.65,507.3 430.32,507.28 431,507.27 431.68,507.25 432.36,507.23 433.04,507.21 433.71,507.19 434.39,507.17 435.07,507.14 435.75,507.11 436.42,507.07 437.1,507.04 437.78,507 438.45,506.95 439.13,506.9 439.81,506.85 440.49,506.79 441.17,506.72 441.84,506.65 442.52,506.57 443.2,506.49 443.88,506.39 444.55,506.29 445.23,506.18 445.91,506.06 446.58,505.93 447.26,505.78 447.94,505.63 448.62,505.46 449.3,505.28 449.97,505.08 450.65,504.87 451.33,504.64 452,504.39 452.68,504.13 453.36,503.84 454.04,503.53 454.72,503.21 455.39,502.85 456.07,502.48 456.75,502.07 457.43,501.64 458.1,501.18 458.78,500.7 459.46,500.18 460.13,499.63 460.81,499.04 461.49,498.42 462.17,497.76 462.85,497.07 463.52,496.33 464.2,495.56 464.88,494.74 465.56,493.89 466.23,492.98 466.91,492.04 467.59,491.05 468.26,490.01 468.94,488.92 469.62,487.79 470.3,486.6 470.98,485.37 471.65,484.09 472.33,482.76 473.01,481.38 473.69,479.95 474.36,478.47 475.04,476.94 475.72,475.36 476.39,473.73 477.07,472.06 477.75,470.34 478.43,468.57 479.11,466.76 479.78,464.91 480.46,463.02 481.14,461.1 481.81,459.14 482.49,457.14 483.17,455.12 483.85,453.07 484.52,450.99 485.2,448.9 485.88,446.78 486.56,444.66 487.24,442.52 487.91,440.38 488.59,438.24 489.27,436.1 489.94,433.97 490.62,431.85 491.3,429.75 491.98,427.67 492.65,425.62 493.33,423.6 494.01,421.61 494.69,419.66 495.37,417.76 496.04,415.92 496.72,414.12 497.4,412.39 498.07,410.72 498.75,409.13 499.43,407.6 500.11,406.16 500.79,404.79 501.46,403.51 502.14,402.32 502.82,401.23 503.5,400.23 504.17,399.33 504.85,398.53 505.53,397.84 506.2,397.25 506.88,396.77 507.56,396.4 508.24,396.14 508.91,395.99 509.59,395.95 510.27,396.03 510.95,396.22 511.62,396.51 512.3,396.92 512.98,397.44 513.66,398.06 514.34,398.79 515.01,399.62 515.69,400.56 516.37,401.59 517.04,402.72 517.72,403.94 518.4,405.25 519.08,406.64 519.75,408.11 520.43,409.66 521.11,411.28 521.79,412.97 522.47,414.73 523.14,416.54 523.82,418.4 524.5,420.32 525.17,422.28 525.85,424.28 526.53,426.31 527.21,428.38 527.88,430.46 528.56,432.57 529.24,434.69 529.92,436.83 530.6,438.97 531.27,441.11 531.95,443.25 532.63,445.38 533.31,447.5 533.98,449.61 534.66,451.7 535.34,453.77 536.01,455.81 536.69,457.82 537.37,459.81 538.05,461.76 538.73,463.67 539.4,465.55 540.08,467.38 540.76,469.18 541.43,470.93 542.11,472.63 542.79,474.29 543.47,475.9 544.14,477.46 544.82,478.97 545.5,480.44 546.18,481.85 546.86,483.22 547.53,484.53 548.21,485.8 548.89,487.01 549.57,488.18 550.24,489.3 550.92,490.37 551.6,491.39 552.27,492.36 552.95,493.3 553.63,494.18 554.31,495.03 554.99,495.83 555.66,496.59 556.34,497.31 557.02,497.99 557.7,498.63 558.37,499.24 559.05,499.82 559.73,500.36 560.4,500.87 561.08,501.34 561.76,501.79 562.44,502.21 563.12,502.61 563.79,502.98 564.47,503.32 565.15,503.64 565.83,503.94 566.5,504.22 567.18,504.48 567.86,504.72 568.53,504.94 569.21,505.15 569.89,505.34 570.57,505.52 571.25,505.68 571.92,505.83 572.6,505.97 573.28,506.1 573.95,506.22 574.63,506.33 575.31,506.43 575.99,506.52 576.66,506.6 577.34,506.68 578.02,506.75 578.7,506.81 579.38,506.87 580.05,506.92 580.73,506.97 581.41,507.01 582.09,507.05 582.76,507.09 583.44,507.12 584.12,507.15 584.8,507.17 585.47,507.2 586.15,507.22 586.83,507.24 587.5,507.26 588.18,507.27 588.86,507.29 589.54,507.3 590.22,507.31 590.89,507.32 591.57,507.33 592.25,507.34 592.92,507.35 593.6,507.35 594.28,507.36 594.96,507.36 595.63,507.37 596.31,507.37 596.99,507.37 597.67,507.38 598.35,507.38 599.02,507.38 599.7,507.38 600.38,507.39 601.05,507.39 601.73,507.39 602.41,507.39 603.09,507.39 603.76,507.39 604.44,507.39 605.12,507.39 605.8,507.4 606.48,507.4 607.15,507.4 607.83,507.4 608.51,507.4 609.18,507.4 609.86,507.4 610.54,507.4 611.22,507.4 611.89,507.4 612.57,507.4 613.25,507.4 613.93,507.4 614.61,507.4 615.28,507.4 615.96,507.4 616.64,507.4 617.32,507.4 617.99,507.4 618.67,507.4 619.35,507.4 620.02,507.4 620.7,507.4 621.38,507.4 622.06,507.4 622.74,507.4 623.41,507.4 624.09,507.4 624.77,507.4 625.45,507.4 626.12,507.4 626.8,507.4 627.48,507.4 628.15,507.4 628.83,507.4 629.51,507.4 630.19,507.4 630.87,507.4 631.54,507.4 632.22,507.4 632.9,507.4 633.58,507.4 634.25,507.4 634.93,507.4 635.61,507.4 636.28,507.4 636.96,507.4 637.64,507.4 638.32,507.4 639,507.4 639.67,507.4 640.35,507.4 641.03,507.4 641.7,507.4 642.38,507.4 643.06,507.4 643.74,507.4 644.41,507.4 645.09,507.4 645.77,507.4 646.45,507.4 647.12,507.4 647.8,507.4 648.48,507.4 649.16,507.4 649.84,507.4 650.51,507.4 651.19,507.4 651.87,507.4 652.55,507.4 653.22,507.4 653.9,507.4 654.58,507.4 655.25,507.4 655.93,507.4 656.61,507.4 657.29,507.4 657.97,507.4 658.64,507.4 659.32,507.4 660,507.4 660.67,507.4 661.35,507.4 662.03,507.4 662.71,507.4 663.38,507.4 664.06,507.4 664.74,507.4 665.42,507.4 666.1,507.4 666.77,507.4 667.45,507.4 668.13,507.4 668.81,507.4 669.48,507.4 670.16,507.4 670.84,507.4 671.51,507.4 672.19,507.4 672.87,507.4 673.55,507.4 674.22,507.4 674.9,507.4 675.58,507.4 676.26,507.4 676.93,507.4 677.61,507.4 678.29,507.4 678.97,507.4 679.64,507.4 680.32,507.4 681,507.4" fill="none" stroke="#f5337f" stroke-width="1.3"/>
<line x1="545.5" y1="326.3" x2="545.5" y2="507.4" stroke="#4f1794" stroke-width="1.9"/>
<line x1="510.37" y1="326.3" x2="510.37" y2="507.4" stroke="#4f1794" stroke-width="1.5" stroke-dasharray="1.6 1.66"/>
<text transform="translate(405.7 512.3) scale(1 1.04)" text-anchor="end" class="t">0</text>
<text transform="translate(405.7 467.22) scale(1 1.04)" text-anchor="end" class="t">3</text>
<text transform="translate(405.7 422.15) scale(1 1.04)" text-anchor="end" class="t">6</text>
<text transform="translate(405.7 377.07) scale(1 1.04)" text-anchor="end" class="t">9</text>
<text transform="translate(405.7 332) scale(1 1.04)" text-anchor="end" class="t">12</text>
<text transform="translate(410 524.9) scale(1 1.04)" text-anchor="middle" class="t">-4</text>
<text transform="translate(477.75 524.9) scale(1 1.04)" text-anchor="middle" class="t">-2</text>
<text transform="translate(545.5 524.9) scale(1 1.04)" text-anchor="middle" class="t">0</text>
<text transform="translate(613.25 524.9) scale(1 1.04)" text-anchor="middle" class="t">2</text>
<text transform="translate(681 524.9) scale(1 1.04)" text-anchor="middle" class="t">4</text>
<text transform="translate(545.5 542) scale(1 1.04)" text-anchor="middle" class="a">Z-score</text>
<text transform="translate(385.2 412.75) rotate(-90) scale(1 1.04)" text-anchor="middle" class="a">Number of Values</text>
<text transform="translate(545.5 305.6) scale(1 1.04)" text-anchor="middle" class="h" style="font-size:17px">Phonological Processing (Word)</text>
<rect x="323.3" y="749.73" width="5.7" height="44.27" fill="#008b8b" stroke="#000" stroke-width="1.35"/>
<rect x="331.77" y="779.84" width="5.7" height="14.16" fill="#008b8b" stroke="#000" stroke-width="1.35"/>
<rect x="340.24" y="734.67" width="5.7" height="59.33" fill="#008b8b" stroke="#000" stroke-width="1.35"/>
<rect x="348.71" y="764.78" width="5.7" height="29.22" fill="#008b8b" stroke="#000" stroke-width="1.35"/>
<rect x="357.17" y="779.84" width="5.7" height="14.16" fill="#008b8b" stroke="#000" stroke-width="1.35"/>
<rect x="365.64" y="764.78" width="5.7" height="29.22" fill="#008b8b" stroke="#000" stroke-width="1.35"/>
<rect x="374.11" y="734.67" width="5.7" height="59.33" fill="#008b8b" stroke="#000" stroke-width="1.35"/>
<rect x="382.58" y="719.61" width="5.7" height="74.39" fill="#008b8b" stroke="#000" stroke-width="1.35"/>
<rect x="391.05" y="779.84" width="5.7" height="14.16" fill="#008b8b" stroke="#000" stroke-width="1.35"/>
<rect x="399.52" y="734.67" width="5.7" height="59.33" fill="#008b8b" stroke="#000" stroke-width="1.35"/>
<rect x="407.99" y="734.67" width="5.7" height="59.33" fill="#008b8b" stroke="#000" stroke-width="1.35"/>
<rect x="416.46" y="779.84" width="5.7" height="14.16" fill="#008b8b" stroke="#000" stroke-width="1.35"/>
<rect x="424.92" y="779.84" width="5.7" height="14.16" fill="#008b8b" stroke="#000" stroke-width="1.35"/>
<rect x="441.86" y="749.73" width="5.7" height="44.27" fill="#008b8b" stroke="#000" stroke-width="1.35"/>
<rect x="450.33" y="779.84" width="5.7" height="14.16" fill="#008b8b" stroke="#000" stroke-width="1.35"/>
<rect x="458.8" y="779.84" width="5.7" height="14.16" fill="#008b8b" stroke="#000" stroke-width="1.35"/>
<rect x="467.27" y="779.84" width="5.7" height="14.16" fill="#008b8b" stroke="#000" stroke-width="1.35"/>
<path d="M258.4 613.3V797.5M258.4 794H529.4" fill="none" stroke="#000" stroke-width="1.4"/>
<path d="M254.7 794H258.4M256.1 778.94H258.4M256.1 763.88H258.4M254.7 748.83H258.4M256.1 733.77H258.4M256.1 718.71H258.4M254.7 703.65H258.4M256.1 688.59H258.4M256.1 673.53H258.4M254.7 658.47H258.4M256.1 643.42H258.4M256.1 628.36H258.4M254.7 613.3H258.4M258.4 794V797.5M292.27 794V796.3M326.15 794V797.5M360.02 794V796.3M393.9 794V797.5M427.77 794V796.3M461.65 794V797.5M495.52 794V796.3M529.4 794V797.5" fill="none" stroke="#000" stroke-width="1.4"/>
<polyline points="258.4,793.47 259.08,793.44 259.75,793.41 260.43,793.38 261.11,793.35 261.79,793.32 262.46,793.29 263.14,793.26 263.82,793.22 264.5,793.18 265.17,793.15 265.85,793.11 266.53,793.07 267.21,793.02 267.88,792.98 268.56,792.93 269.24,792.88 269.92,792.83 270.59,792.78 271.27,792.73 271.95,792.67 272.63,792.61 273.3,792.55 273.98,792.49 274.66,792.42 275.34,792.35 276.01,792.28 276.69,792.21 277.37,792.14 278.05,792.06 278.72,791.98 279.4,791.89 280.08,791.81 280.76,791.72 281.44,791.63 282.11,791.53 282.79,791.43 283.47,791.33 284.14,791.23 284.82,791.12 285.5,791.01 286.18,790.89 286.85,790.77 287.53,790.65 288.21,790.52 288.89,790.39 289.56,790.26 290.24,790.12 290.92,789.98 291.6,789.83 292.27,789.68 292.95,789.53 293.63,789.37 294.31,789.2 294.98,789.04 295.66,788.86 296.34,788.69 297.02,788.51 297.69,788.32 298.37,788.13 299.05,787.93 299.73,787.73 300.4,787.52 301.08,787.31 301.76,787.1 302.44,786.87 303.12,786.65 303.79,786.41 304.47,786.18 305.15,785.93 305.82,785.69 306.5,785.43 307.18,785.17 307.86,784.91 308.53,784.64 309.21,784.36 309.89,784.08 310.57,783.8 311.25,783.51 311.92,783.21 312.6,782.91 313.28,782.6 313.95,782.28 314.63,781.96 315.31,781.64 315.99,781.31 316.66,780.97 317.34,780.63 318.02,780.28 318.7,779.93 319.38,779.57 320.05,779.21 320.73,778.84 321.41,778.47 322.08,778.09 322.76,777.71 323.44,777.32 324.12,776.92 324.79,776.53 325.47,776.12 326.15,775.72 326.83,775.31 327.5,774.89 328.18,774.47 328.86,774.05 329.54,773.62 330.21,773.19 330.89,772.75 331.57,772.31 332.25,771.87 332.92,771.42 333.6,770.98 334.28,770.53 334.96,770.07 335.63,769.62 336.31,769.16 336.99,768.7 337.67,768.23 338.34,767.77 339.02,767.31 339.7,766.84 340.38,766.37 341.05,765.9 341.73,765.43 342.41,764.97 343.09,764.5 343.76,764.03 344.44,763.56 345.12,763.09 345.8,762.62 346.47,762.16 347.15,761.69 347.83,761.23 348.51,760.77 349.19,760.31 349.86,759.86 350.54,759.4 351.22,758.95 351.89,758.51 352.57,758.07 353.25,757.63 353.93,757.19 354.6,756.76 355.28,756.34 355.96,755.92 356.64,755.5 357.31,755.09 357.99,754.69 358.67,754.29 359.35,753.9 360.02,753.51 360.7,753.14 361.38,752.77 362.06,752.4 362.74,752.05 363.41,751.7 364.09,751.36 364.77,751.03 365.44,750.71 366.12,750.39 366.8,750.09 367.48,749.79 368.15,749.51 368.83,749.23 369.51,748.97 370.19,748.71 370.87,748.47 371.54,748.23 372.22,748.01 372.9,747.8 373.57,747.59 374.25,747.4 374.93,747.22 375.61,747.06 376.28,746.9 376.96,746.75 377.64,746.62 378.32,746.5 379,746.39 379.67,746.3 380.35,746.21 381.03,746.14 381.7,746.08 382.38,746.03 383.06,746 383.74,745.97 384.41,745.96 385.09,745.97 385.77,745.98 386.45,746.01 387.12,746.05 387.8,746.1 388.48,746.16 389.16,746.24 389.83,746.33 390.51,746.43 391.19,746.54 391.87,746.67 392.54,746.81 393.22,746.96 393.9,747.12 394.58,747.29 395.25,747.47 395.93,747.67 396.61,747.87 397.29,748.09 397.96,748.32 398.64,748.56 399.32,748.81 400,749.06 400.67,749.33 401.35,749.61 402.03,749.9 402.71,750.2 403.38,750.51 404.06,750.82 404.74,751.15 405.42,751.48 406.1,751.83 406.77,752.18 407.45,752.54 408.13,752.9 408.8,753.27 409.48,753.66 410.16,754.04 410.84,754.44 411.51,754.84 412.19,755.24 412.87,755.65 413.55,756.07 414.23,756.49 414.9,756.92 415.58,757.35 416.26,757.79 416.93,758.23 417.61,758.67 418.29,759.12 418.97,759.57 419.64,760.03 420.32,760.48 421,760.94 421.68,761.4 422.35,761.87 423.03,762.33 423.71,762.8 424.39,763.26 425.06,763.73 425.74,764.2 426.42,764.67 427.1,765.14 427.77,765.61 428.45,766.08 429.13,766.54 429.81,767.01 430.49,767.48 431.16,767.94 431.84,768.41 432.52,768.87 433.19,769.33 433.87,769.78 434.55,770.24 435.23,770.69 435.9,771.14 436.58,771.59 437.26,772.03 437.94,772.47 438.62,772.91 439.29,773.35 439.97,773.78 440.65,774.2 441.32,774.63 442,775.04 442.68,775.46 443.36,775.87 444.03,776.27 444.71,776.67 445.39,777.07 446.07,777.46 446.75,777.85 447.42,778.23 448.1,778.61 448.78,778.98 449.45,779.34 450.13,779.7 450.81,780.06 451.49,780.41 452.16,780.76 452.84,781.1 453.52,781.43 454.2,781.76 454.88,782.08 455.55,782.4 456.23,782.71 456.91,783.02 457.58,783.32 458.26,783.61 458.94,783.9 459.62,784.19 460.29,784.47 460.97,784.74 461.65,785.01 462.33,785.27 463,785.53 463.68,785.78 464.36,786.03 465.04,786.27 465.71,786.5 466.39,786.73 467.07,786.96 467.75,787.18 468.42,787.39 469.1,787.6 469.78,787.8 470.46,788 471.13,788.2 471.81,788.39 472.49,788.57 473.17,788.75 473.85,788.93 474.52,789.1 475.2,789.27 475.88,789.43 476.55,789.59 477.23,789.74 477.91,789.89 478.59,790.03 479.26,790.17 479.94,790.31 480.62,790.44 481.3,790.57 481.98,790.7 482.65,790.82 483.33,790.93 484.01,791.05 484.68,791.16 485.36,791.27 486.04,791.37 486.72,791.47 487.39,791.57 488.07,791.66 488.75,791.75 489.43,791.84 490.1,791.93 490.78,792.01 491.46,792.09 492.14,792.16 492.81,792.24 493.49,792.31 494.17,792.38 494.85,792.45 495.52,792.51 496.2,792.57 496.88,792.63 497.56,792.69 498.24,792.75 498.91,792.8 499.59,792.85 500.27,792.9 500.94,792.95 501.62,792.99 502.3,793.04 502.98,793.08 503.65,793.12 504.33,793.16 505.01,793.2 505.69,793.23 506.37,793.27 507.04,793.3 507.72,793.33 508.4,793.37 509.07,793.4 509.75,793.42 510.43,793.45 511.11,793.48 511.78,793.5 512.46,793.52 513.14,793.55 513.82,793.57 514.5,793.59 515.17,793.61 515.85,793.63 516.53,793.65 517.2,793.66 517.88,793.68 518.56,793.7 519.24,793.71 519.91,793.73 520.59,793.74 521.27,793.75 521.95,793.77 522.62,793.78 523.3,793.79 523.98,793.8 524.66,793.81 525.34,793.82 526.01,793.83 526.69,793.84 527.37,793.85 528.04,793.86 528.72,793.86 529.4,793.87" fill="none" stroke="#f5337f" stroke-width="1.3"/>
<line x1="393.9" y1="612.5" x2="393.9" y2="794" stroke="#4f1794" stroke-width="1.9"/>
<line x1="386.89" y1="612.5" x2="386.89" y2="794" stroke="#4f1794" stroke-width="1.5" stroke-dasharray="1.6 1.66"/>
<text transform="translate(254.1 798.9) scale(1 1.04)" text-anchor="end" class="t">0</text>
<text transform="translate(254.1 753.73) scale(1 1.04)" text-anchor="end" class="t">3</text>
<text transform="translate(254.1 708.55) scale(1 1.04)" text-anchor="end" class="t">6</text>
<text transform="translate(254.1 663.37) scale(1 1.04)" text-anchor="end" class="t">9</text>
<text transform="translate(254.1 618.2) scale(1 1.04)" text-anchor="end" class="t">12</text>
<text transform="translate(258.4 811.3) scale(1 1.04)" text-anchor="middle" class="t">-4</text>
<text transform="translate(326.15 811.3) scale(1 1.04)" text-anchor="middle" class="t">-2</text>
<text transform="translate(393.9 811.3) scale(1 1.04)" text-anchor="middle" class="t">0</text>
<text transform="translate(461.65 811.3) scale(1 1.04)" text-anchor="middle" class="t">2</text>
<text transform="translate(529.4 811.3) scale(1 1.04)" text-anchor="middle" class="t">4</text>
<text transform="translate(393.9 828.4) scale(1 1.04)" text-anchor="middle" class="a">Z-score</text>
<text transform="translate(233.6 699.15) rotate(-90) scale(1 1.04)" text-anchor="middle" class="a">Number of Values</text>
<text transform="translate(393.9 591.8) scale(1 1.04)" text-anchor="middle" class="h" style="font-size:17.1px">Reading Comprehension</text>
</svg>
</body></html>
